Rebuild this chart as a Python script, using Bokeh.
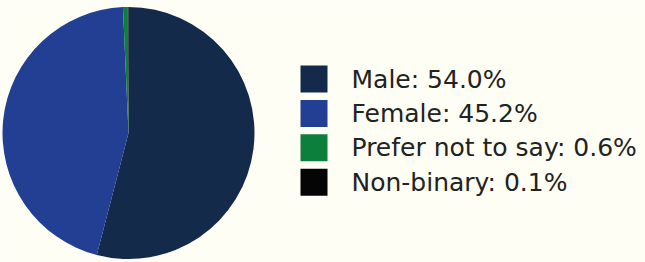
import math
from bokeh.plotting import figure
from bokeh.models import ColumnDataSource, Range1d
from bokeh.core.properties import value
from bokeh.embed import file_html
from bokeh.resources import INLINE

categories = ["Male", "Female", "Prefer not to say", "Non-binary"]
shares = [54.0, 45.2, 0.6, 0.1]
colors = ["#132a4b", "#233f94", "#0b7f3b", "#050505"]

BG = "#fffef4"
W, H = 645, 262
cx, cy, r = 128, H - 132.5, 126

total = sum(shares)
starts, ends = [], []
acc = 0.0
for s in shares:
    starts.append(math.pi / 2 - 2 * math.pi * acc / total)
    acc += s
    ends.append(math.pi / 2 - 2 * math.pi * acc / total)

n = len(categories)
sq_x = [313.5] * n
sq_y = [H - (78.5 + 34.4 * i) for i in range(n)]
txt_x = [351] * n
txt_y = [H - (78.5 + 34.4 * i) for i in range(n)]

src = ColumnDataSource(dict(
    cat=categories, share=shares, color=colors,
    start=starts, end=ends,
    label=[f"{c}: {v:.1f}%" for c, v in zip(categories, shares)],
    sx=sq_x, sy=sq_y, tx=txt_x, ty=txt_y,
))

p = figure(width=W, height=H, output_backend="svg", toolbar_location=None,
           x_range=Range1d(0, W), y_range=Range1d(0, H),
           min_border=0, background_fill_color=BG, border_fill_color=BG,
           outline_line_color=None)
p.axis.visible = False
p.grid.visible = False

p.wedge(x=cx, y=cy, radius=r, radius_units="screen",
        start_angle="start", end_angle="end", direction="clock",
        fill_color="color", line_color=None, source=src)

p.rect(x="sx", y="sy", width=27, height=27, width_units="screen",
       height_units="screen", fill_color="color", line_color=None, source=src)

p.text(x="tx", y="ty", text="label", source=src,
       text_font=value("DejaVu Sans"), text_font_size="25px",
       text_color="#222222", text_baseline="middle", text_align="left")

html = file_html(p, INLINE)
html = html.replace("<body>", f'<body style="background:{BG}">', 1)
open("out.html", "w").write(html)
